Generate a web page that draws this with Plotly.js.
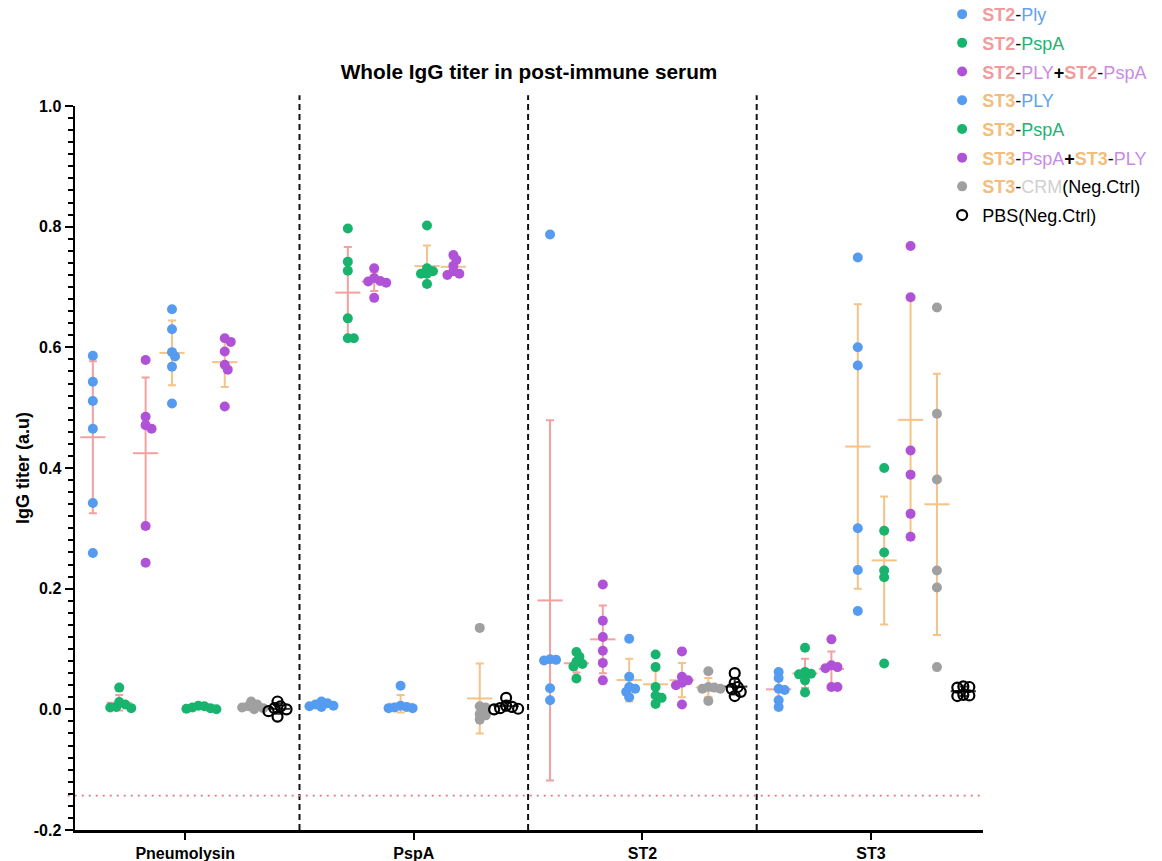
<!DOCTYPE html>
<html><head><meta charset="utf-8">
<script src="https://cdn.plot.ly/plotly-3.0.1.min.js"></script>
<style>html,body{margin:0;padding:0;background:#fff}#chart{width:1162px;height:861px}</style>
</head><body><div id="chart"></div>
<script>
// ---------------- DATA ----------------
const categories = ['Pneumolysin', 'PspA', 'ST2', 'ST3'];
const seriesNames = ['ST2-Ply', 'ST2-PspA', 'ST2-PLY+ST2-PspA', 'ST3-PLY', 'ST3-PspA',
  'ST3-PspA+ST3-PLY', 'ST3-CRM(Neg.Ctrl)', 'PBS(Neg.Ctrl)'];
const yTickValues = [-0.2, 0.0, 0.2, 0.4, 0.6, 0.8, 1.0];
const yTickLabels = ['-0.2', '0.0', '0.2', '0.4', '0.6', '0.8', '1.0'];
const cutoff = -0.143;

// each series: values per category [Pneumolysin, PspA, ST2, ST3]
const st2Ply = [
  [0.586, 0.543, 0.511, 0.465, 0.342, 0.259],
  [0.013, 0.010, 0.008, 0.006, 0.005, 0.004],
  [0.787, 0.083, 0.082, 0.081, 0.035, 0.015],
  [0.062, 0.052, 0.034, 0.032, 0.015, 0.004]];
const st2PspA = [
  [0.036, 0.012, 0.008, 0.004, 0.003, 0.002],
  [0.797, 0.742, 0.727, 0.648, 0.615, 0.615],
  [0.095, 0.087, 0.079, 0.075, 0.071, 0.051],
  [0.102, 0.062, 0.059, 0.058, 0.048, 0.028]];
const st2Combo = [
  [0.579, 0.485, 0.471, 0.465, 0.304, 0.243],
  [0.731, 0.715, 0.710, 0.709, 0.707, 0.682],
  [0.207, 0.147, 0.120, 0.097, 0.077, 0.048],
  [0.116, 0.073, 0.070, 0.068, 0.037, 0.037]];
const st3Ply = [
  [0.663, 0.630, 0.592, 0.585, 0.568, 0.507],
  [0.039, 0.006, 0.004, 0.003, 0.002, 0.002],
  [0.117, 0.054, 0.037, 0.034, 0.029, 0.020],
  [0.749, 0.600, 0.570, 0.300, 0.231, 0.163]];
const st3PspA = [
  [0.006, 0.005, 0.003, 0.002, 0.001, 0.000],
  [0.802, 0.731, 0.726, 0.722, 0.722, 0.705],
  [0.091, 0.070, 0.037, 0.023, 0.019, 0.009],
  [0.400, 0.296, 0.260, 0.230, 0.219, 0.076]];
const st3Combo = [
  [0.615, 0.609, 0.593, 0.571, 0.563, 0.502],
  [0.753, 0.745, 0.735, 0.726, 0.722, 0.720],
  [0.096, 0.054, 0.048, 0.044, 0.040, 0.008],
  [0.768, 0.683, 0.429, 0.389, 0.324, 0.286]];
const st3Crm = [
  [0.013, 0.008, 0.005, 0.003, 0.002, 0.000],
  [0.135, 0.005, 0.003, -0.008, -0.010, -0.017],
  [0.063, 0.037, 0.036, 0.034, 0.034, 0.014],
  [0.666, 0.490, 0.381, 0.230, 0.202, 0.070]];
const pbs = [
  [0.013, 0.005, 0.002, 0.000, -0.003, -0.012],
  [0.019, 0.006, 0.004, 0.002, 0.001, 0.000],
  [0.060, 0.044, 0.037, 0.034, 0.029, 0.022],
  [0.038, 0.037, 0.036, 0.024, 0.023, 0.022]];
const seriesData = [st2Ply, st2PspA, st2Combo, st3Ply, st3PspA, st3Combo, st3Crm, pbs];

// ---------------- STYLE / LAYOUT ----------------
const W = 1162, H = 861, M = {l: 75, r: 179, t: 106, b: 31, pad: 0, autoexpand: false};
const xRange = [-0.482, 3.49], yRange = [-0.2, 1.0];
const pxX = (W - M.l - M.r) / (xRange[1] - xRange[0]);
const pxY = (H - M.t - M.b) / (yRange[1] - yRange[0]);
const FONT = 'Liberation Sans, Arial, sans-serif';

const PINK = '#f2a0a0', ORANGE = '#f5c287';
const markerColors = ['#559cf0', '#18b46e', '#b052d8', '#559cf0', '#18b46e', '#b052d8', '#a0a0a0', '#ffffff'];
const barColors = [PINK, PINK, PINK, ORANGE, ORANGE, ORANGE, ORANGE, '#333333'];
const T = {st2: '#f09c9c', st3: '#f3bd7c', blue: '#64a2ee', green: '#22b373', lav: '#c98be2', gray: '#d0d0d0'};
const seg = (t, c, b) => `<span style="color:${c}">${b ? '<b>' + t + '</b>' : t}</span>`;
const legendLabels = [
  seg('ST2', T.st2, 1) + '-' + seg('Ply', T.blue),
  seg('ST2', T.st2, 1) + '-' + seg('PspA', T.green),
  seg('ST2', T.st2, 1) + '-' + seg('PLY', T.lav) + '<b>+</b>' + seg('ST2', T.st2, 1) + '-' + seg('PspA', T.lav),
  seg('ST3', T.st3, 1) + '-' + seg('PLY', T.blue),
  seg('ST3', T.st3, 1) + '-' + seg('PspA', T.green),
  seg('ST3', T.st3, 1) + '-' + seg('PspA', T.lav) + '<b>+</b>' + seg('ST3', T.st3, 1) + '-' + seg('PLY', T.lav),
  seg('ST3', T.st3, 1) + '-' + seg('CRM', T.gray) + '(Neg.Ctrl)',
  'PBS(Neg.Ctrl)'
];

const nS = seriesData.length;
const step = 0.1154;
const baseX = (c, s) => c + (s - (nS - 1) / 2) * step;

function swarm(vals, base) {
  const D = 5, st = 3, placed = [], out = new Array(vals.length);
  const order = vals.map((v, i) => i).sort((a, b) => vals[b] - vals[a]);
  for (const idx of order) {
    const v = vals[idx];
    for (let k = 0; k < 80; k++) {
      const off = (k % 2 ? 1 : -1) * Math.ceil(k / 2) * st;
      let ok = true;
      for (const p of placed) {
        const dx = off - p.off, dy = (v - p.v) * pxY;
        if (dx * dx + dy * dy < D * D) { ok = false; break; }
      }
      if (ok) { placed.push({off, v}); out[idx] = base + off / pxX; break; }
    }
  }
  return out;
}
const mean = a => a.reduce((s, v) => s + v, 0) / a.length;
const sd = a => { const m = mean(a); return Math.sqrt(a.reduce((s, v) => s + (v - m) ** 2, 0) / (a.length - 1)); };

const errTraces = [], ptTraces = [];
seriesData.forEach((ser, s) => {
  const ex = [], ey = [], es = [], px = [], py = [];
  ser.forEach((vals, c) => {
    ex.push(baseX(c, s)); ey.push(mean(vals)); es.push(sd(vals));
    const xs = swarm(vals, baseX(c, s));
    vals.forEach((v, i) => { px.push(xs[i]); py.push(v); });
  });
  errTraces.push({
    type: 'scatter', mode: 'markers', x: ex, y: ey, showlegend: false, hoverinfo: 'skip',
    marker: {symbol: 'line-ew', size: 18, color: barColors[s], line: {color: barColors[s], width: 2}},
    error_y: {type: 'data', array: es, visible: true, color: barColors[s], thickness: 2, width: 4}
  });
  const open = s === nS - 1;
  ptTraces.push({
    type: 'scatter', mode: 'markers', x: px, y: py, name: legendLabels[s], legendgroup: 'g' + s,
    marker: open ? {symbol: 'circle-open', size: 10, color: '#000', line: {width: 2.2, color: '#000'}}
                 : {symbol: 'circle', size: 10, color: markerColors[s], line: {width: 0}}
  });
});

const shapes = [0.5, 1.5, 2.5].map(x => ({
  type: 'line', xref: 'x', yref: 'paper', x0: x, x1: x, y0: 0, y1: 1.015,
  line: {color: '#111', width: 2, dash: '6px,4px'}, layer: 'below'
}));
shapes.push({type: 'line', xref: 'paper', yref: 'y', x0: -0.008, x1: 1, y0: cutoff, y1: cutoff,
  line: {color: '#e07a7a', width: 1.6, dash: '2px,5px'}, layer: 'below'});

const layout = {
  width: W, height: H, margin: M, paper_bgcolor: '#fff', plot_bgcolor: '#fff',
  font: {family: FONT, color: '#000'},
  title: {text: 'Whole IgG titer in post-immune serum', x: 0.5, xref: 'paper', xanchor: 'center',
    y: 1 - 72 / H, yref: 'container', yanchor: 'middle', font: {size: 20.8, weight: 'bold', family: FONT}},
  xaxis: {range: xRange, tickvals: [0, 1, 2, 3], ticktext: categories, showgrid: false, zeroline: false,
    showline: true, linecolor: '#000', linewidth: 2.5, ticks: 'outside', ticklen: 7, tickwidth: 2, tickcolor: '#000',
    tickfont: {size: 16, weight: 'bold', family: FONT}},
  yaxis: {range: yRange, tickvals: yTickValues, ticktext: yTickLabels, showgrid: false, zeroline: false,
    showline: true, linecolor: '#000', linewidth: 2.5, ticks: 'outside', ticklen: 8, tickwidth: 2, tickcolor: '#000',
    minor: {dtick: 0.02, tick0: 0, ticks: 'outside', ticklen: 5, tickwidth: 2, tickcolor: '#000', showgrid: false},
    tickfont: {size: 16, weight: 'bold', family: FONT},
    title: {text: 'IgG titer (a.u)', font: {size: 18, weight: 'bold', family: FONT}, standoff: 0}},
  legend: {x: 0.955, xanchor: 'left', y: 1.152, yanchor: 'top', font: {size: 18, family: FONT},
    bgcolor: 'rgba(0,0,0,0)', itemsizing: 'trace', traceorder: 'grouped', tracegroupgap: 2.3},
  shapes: shapes, showlegend: true
};

Plotly.newPlot('chart', errTraces.concat(ptTraces), layout, {displayModeBar: false, staticPlot: true});
</script></body></html>
